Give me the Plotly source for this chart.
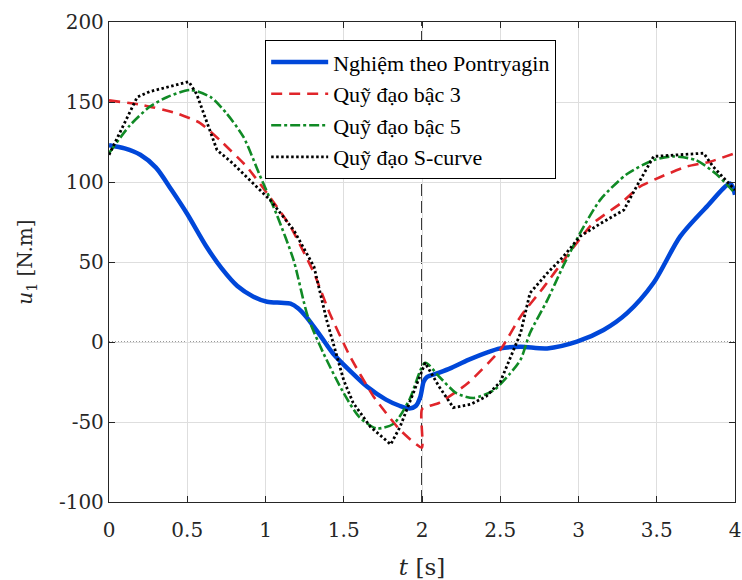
import plotly.graph_objects as go

# ---- data ----
t_pontryagin = [0, 0.1, 0.2, 0.3, 0.4, 0.5, 0.62, 0.72, 0.82, 0.92, 1.01, 1.1, 1.16, 1.21, 1.26, 1.35, 1.43, 1.55,
                1.65, 1.77, 1.86, 1.92, 1.96, 1.99, 2.01, 2.03, 2.1, 2.18, 2.3, 2.5, 2.63, 2.8, 2.99,
                3.16, 3.31, 3.48, 3.65, 3.82, 3.97, 4.0]
u_pontryagin = [123, 121, 117, 109, 95, 80, 60, 46, 35, 28.5, 25.2, 24.5, 24, 21, 15.8, 4, -7, -19,
                -28, -36, -40, -41.5, -40, -34, -25, -22, -19.5, -16.5, -11, -4, -3, -4, 0.2,
                7.5, 18, 37, 66, 84.6, 99, 92]

t_cubic = [0, 0.22, 0.43, 0.58, 0.71, 0.88, 1.01, 1.16, 1.31, 1.41, 1.54, 1.69, 1.86, 1.999,
           2.0, 2.11, 2.29, 2.5, 2.63, 2.78, 2.92, 3.09, 3.27, 3.39, 3.52, 3.69, 3.84, 4.0]
u_cubic = [151, 148, 143, 137, 126, 109.6, 93, 72, 43, 18, -9, -34, -55, -66,
           -42, -38, -26, -5, 16, 34.6, 53, 74, 86.7, 97, 103, 109.6, 112.7, 118]

t_quintic = [0, 0.13, 0.26, 0.37, 0.52, 0.65, 0.75, 0.86, 0.96, 1.07, 1.18, 1.27, 1.37, 1.5, 1.6,
             1.71, 1.82, 1.92, 2.02, 2.11, 2.22, 2.33, 2.46, 2.56, 2.63, 2.69, 2.8, 2.9, 3.01,
             3.14, 3.31, 3.48, 3.6, 3.75, 3.88, 4.0]
u_quintic = [118, 135, 147, 153, 157.5, 153, 143, 128, 105, 80, 51, 16, -7, -32, -47,
             -54, -51, -36, -13, -21.7, -32, -35, -30, -20, -11, 5.6, 26, 47, 68,
             89, 105, 113.7, 116, 113.7, 105, 93]

t_scurve = [0, 0.18, 0.26, 0.51, 0.56, 0.69, 0.79, 0.92, 1.03, 1.18, 1.31, 1.39, 1.5, 1.56, 1.67,
            1.8, 1.86, 1.92, 2.02, 2.11, 2.2, 2.31, 2.41, 2.5, 2.56, 2.63, 2.69, 2.8, 2.9, 3.01,
            3.14, 3.29, 3.37, 3.48, 3.8, 3.86, 4.0]
u_scurve = [117, 153, 156.5, 162.7, 155, 120, 111.7, 99, 88.7, 70, 47, 14, -24, -38, -53,
            -64, -53, -38, -13, -28, -41, -39, -34, -25, -11, 5.6, 30.6, 43, 53, 66,
            74, 82.5, 97, 116, 118, 109.6, 95]

series_names = ["Nghiệm theo Pontryagin", "Quỹ đạo bậc 3", "Quỹ đạo bậc 5", "Quỹ đạo S-curve"]

x_ticks = [0, 0.5, 1, 1.5, 2, 2.5, 3, 3.5, 4]
x_tick_labels = ["0", "0.5", "1", "1.5", "2", "2.5", "3", "3.5", "4"]
y_ticks = [-100, -50, 0, 50, 100, 150, 200]
y_tick_labels = ["-100", "-50", "0", "50", "100", "150", "200"]
t_switch = 2
y_zero = 0

TICK_FONT = "DejaVu Serif"
LEG_FONT = "Liberation Serif"

# ---- figure ----
fig = go.Figure()

fig.add_trace(go.Scatter(x=t_pontryagin, y=u_pontryagin, name=series_names[0], mode="lines",
                         line=dict(color="#0047d9", width=4.5, shape="spline", smoothing=0.8)))
fig.add_trace(go.Scatter(x=t_cubic, y=u_cubic, name=series_names[1], mode="lines",
                         line=dict(color="#e0252a", width=2.6, dash="11px,7px", shape="spline", smoothing=0.5)))
fig.add_trace(go.Scatter(x=t_quintic, y=u_quintic, name=series_names[2], mode="lines",
                         line=dict(color="#108a25", width=2.6, dash="10px,3px,3px,3px", shape="spline", smoothing=0.7)))
fig.add_trace(go.Scatter(x=t_scurve, y=u_scurve, name=series_names[3], mode="lines",
                         line=dict(color="#000000", width=2.8, dash="2.5px,2.5px")))

fig.add_vline(x=t_switch, line=dict(color="#3a3a3a", width=2, dash="12px,5px"), layer="below")
fig.add_hline(y=y_zero, line=dict(color="#333333", width=1, dash="1px,2px"), layer="below")

axis_common = dict(
    showline=True, linecolor="#262626", linewidth=1.3, mirror="ticks",
    ticks="inside", ticklen=6, tickwidth=1.3, tickcolor="#262626",
    showgrid=True, gridcolor="#dedede", gridwidth=1, zeroline=False,
    tickfont=dict(family=TICK_FONT, size=20, color="#262626"),
)

fig.update_xaxes(range=[0, 4], tickvals=x_ticks, ticktext=x_tick_labels, ticklabelstandoff=10,
                 title=dict(text="<i>t</i> [s]", font=dict(family=TICK_FONT, size=23, color="#262626"), standoff=20),
                 **axis_common)
fig.update_yaxes(range=[-100, 200], tickvals=y_ticks, ticktext=y_tick_labels,
                 title=dict(text="<i>u</i><sub>1</sub> [N.m]", font=dict(family=TICK_FONT, size=20, color="#262626"), standoff=20),
                 **axis_common)

fig.update_layout(
    width=742, height=580,
    margin=dict(l=109, r=7, t=22, b=78, autoexpand=False),
    paper_bgcolor="white", plot_bgcolor="white",
    showlegend=True,
    legend=dict(x=0.249, y=0.9625, xanchor="left", yanchor="top",
                bgcolor="white", bordercolor="#000000", borderwidth=1.3,
                font=dict(family=LEG_FONT, size=22, color="#000000"),
                itemwidth=57, tracegroupgap=0),
)

fig.write_html("out.html")
